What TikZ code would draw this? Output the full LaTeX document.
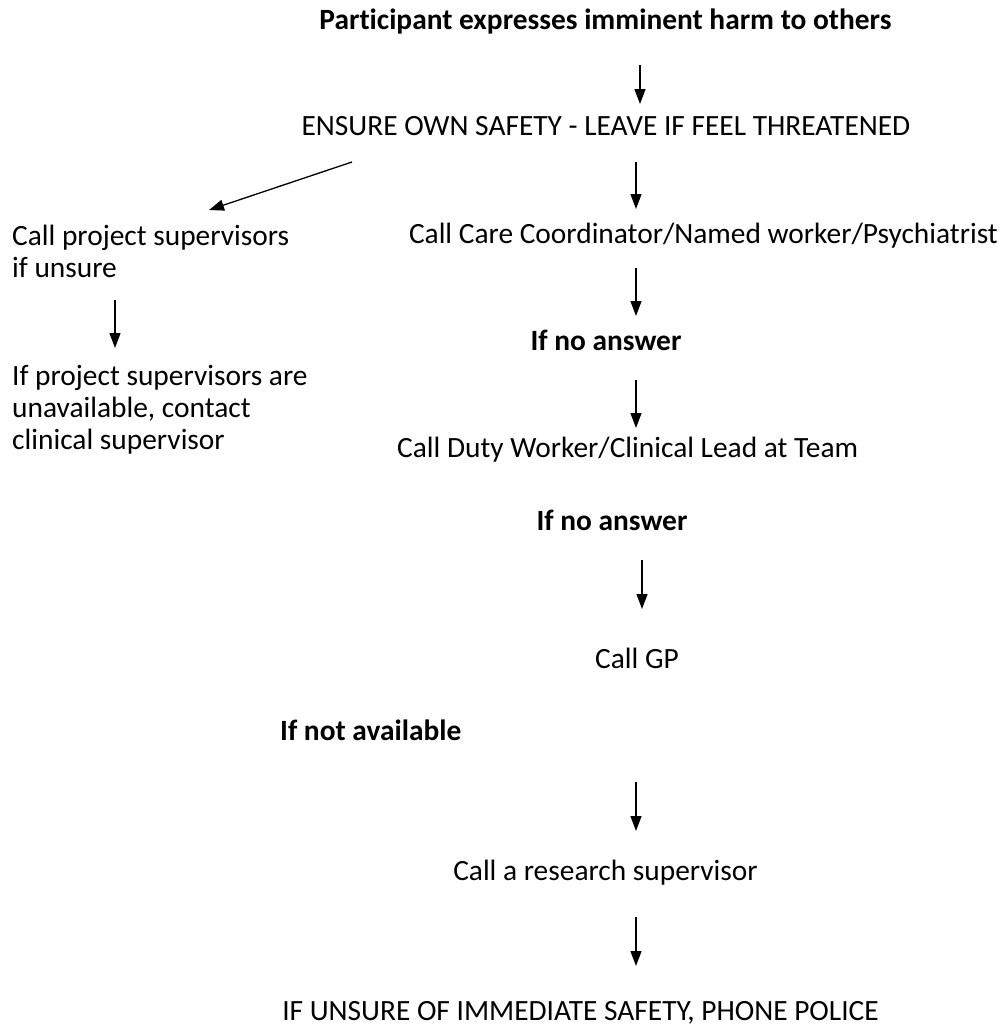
\documentclass[tikz,border=0pt]{standalone}
\usepackage{fontspec}
\setmainfont{Carlito}[Ligatures=NoCommon]
\usetikzlibrary{arrows.meta}

\begin{document}
\begin{tikzpicture}[x=1pt, y=-1pt,
    txt/.style={inner sep=0pt, anchor=base, font=\fontsize{29.4}{32}\selectfont},
    btxt/.style={txt, font=\fontsize{29.4}{32}\selectfont\bfseries},
    ltxt/.style={inner sep=0pt, anchor=base west, align=left, font=\fontsize{29.4}{32}\selectfont},
    arr/.style={line width=1.3pt, -{Triangle[length=15pt, width=11pt]}}]
    \useasboundingbox (0,0) rectangle (1008,1029);

    % Main column
    \node[btxt] (harm) at (605.5,29) {Participant expresses imminent harm to others};
    \node[txt] (safety) at (606,135) {ENSURE OWN SAFETY - LEAVE IF FEEL THREATENED};
    \node[txt, anchor=base east] (care) at (998,243) {Call Care Coordinator/Named worker/Psychiatrist};
    \node[btxt] (noans1) at (606,350) {If no answer};
    \node[txt, anchor=base west] (duty) at (397,457) {Call Duty Worker/Clinical Lead at Team};
    \node[btxt] (noans2) at (612,530) {If no answer};
    \node[txt, anchor=base west] (gp) at (595,668) {Call GP};
    \node[btxt, anchor=base west] (notavail) at (280,740) {If not available};
    \node[txt] (research) at (605.5,880) {Call a research supervisor};
    \node[txt, anchor=base east] (police) at (879,1020) {IF UNSURE OF IMMEDIATE SAFETY, PHONE POLICE};

    % Left column (base = last line)
    \node[ltxt] (proj) at (12,277) {Call project supervisors\\if unsure};
    \node[ltxt] (clin) at (12,449) {If project supervisors are\\unavailable, contact\\clinical supervisor};

    % Arrow ends
    \coordinate (a1s) at (640,65);  \coordinate (a1e) at (640,104);
    \coordinate (a2s) at (352,162); \coordinate (a2e) at (209,210);
    \coordinate (a3s) at (636,162); \coordinate (a3e) at (636,209);
    \coordinate (a4s) at (115,300); \coordinate (a4e) at (115,348);
    \coordinate (a5s) at (636,268); \coordinate (a5e) at (636,316);
    \coordinate (a6s) at (636,380); \coordinate (a6e) at (636,428);
    \coordinate (a7s) at (642,560); \coordinate (a7e) at (642,609);
    \coordinate (a8s) at (636,782); \coordinate (a8e) at (636,831);
    \coordinate (a9s) at (636,917); \coordinate (a9e) at (636,966);

    % Arrows
    \draw[arr] (a1s) -- (a1e);
    \draw[arr] (a2s) -- (a2e);
    \draw[arr] (a3s) -- (a3e);
    \draw[arr] (a4s) -- (a4e);
    \draw[arr] (a5s) -- (a5e);
    \draw[arr] (a6s) -- (a6e);
    \draw[arr] (a7s) -- (a7e);
    \draw[arr] (a8s) -- (a8e);
    \draw[arr] (a9s) -- (a9e);
\end{tikzpicture}
\end{document}
